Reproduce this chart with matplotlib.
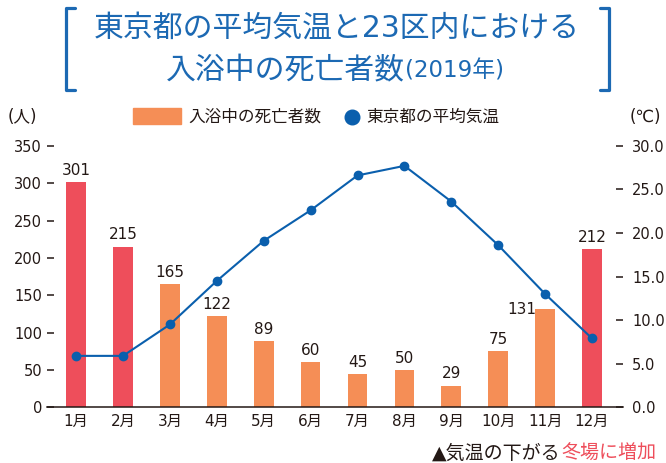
import matplotlib
matplotlib.use('Agg')
import matplotlib.pyplot as plt
from matplotlib.lines import Line2D
from matplotlib.patches import Rectangle

# data
months = ['1月', '2月', '3月', '4月', '5月', '6月', '7月', '8月', '9月', '10月', '11月', '12月']
deaths = [301, 215, 165, 122, 89, 60, 45, 50, 29, 75, 131, 212]
temps = [5.9, 5.9, 9.5, 14.5, 19.1, 22.6, 26.6, 27.7, 23.6, 18.6, 13.0, 7.9]
winter_months = ['1月', '2月', '12月']
left_ticks = [0, 50, 100, 150, 200, 250, 300, 350]
right_ticks = [0, 5, 10, 15, 20, 25, 30]

W, H = 666, 463
RED = '#ee4e5b'
ORANGE = '#f58e56'
BLUE = '#0a5fad'
TITLE_BLUE = '#1c69b3'
DARK = '#231815'

plt.rcParams['font.family'] = ['DejaVu Sans', 'Noto Sans CJK JP']


def fx(x):
    return x / W


def fy(y):
    return 1 - y / H


fig = plt.figure(figsize=(W / 100, H / 100), dpi=100)
ax = fig.add_axes([fx(47), fy(407.3), 576 / W, 261.5 / H])

x = list(range(len(months)))
colors = [RED if m in winter_months else ORANGE for m in months]
ax.bar(x, deaths, width=0.42, color=colors, zorder=2)

for i, v in enumerate(deaths):
    if months[i] == '11月':
        # label sits left of the bar so the line doesn't cross it
        ax.annotate(str(v), (i, v), xytext=(-17, 0), textcoords='offset points',
                    ha='center', va='center', fontsize=11, color=DARK)
    else:
        ax.annotate(str(v), (i, v), xytext=(0, 3), textcoords='offset points',
                    ha='center', va='bottom', fontsize=11, color=DARK)

ax.set_xlim(-0.62, 11.66)
ax.set_ylim(0, 350)
ax.set_xticks(x)
ax.set_xticklabels(months)
ax.set_yticks(left_ticks)
ax.tick_params(axis='x', length=0, pad=4.5, labelsize=11, labelcolor=DARK)
ax.tick_params(axis='y', direction='in', length=4.7, width=1.1, color=DARK,
               pad=3.6, labelsize=10.5, labelcolor=DARK)
for side in ['top', 'left', 'right']:
    ax.spines[side].set_visible(False)
ax.spines['bottom'].set_color(DARK)
ax.spines['bottom'].set_linewidth(1.1)

ax2 = ax.twinx()
ax2.plot(x, temps, color=BLUE, lw=1.5, marker='o', ms=6, zorder=3)
ax2.set_ylim(0, 30)
ax2.set_yticks(right_ticks)
ax2.set_yticklabels([f'{t:.1f}' for t in right_ticks])
ax2.tick_params(axis='y', direction='in', length=4.7, width=1.1, color=DARK,
                pad=6.5, labelsize=10.5, labelcolor=DARK)
for side in ['top', 'left', 'right', 'bottom']:
    ax2.spines[side].set_visible(False)

# title with brackets
fig.text(fx(337), fy(28), '東京都の平均気温と23区内における', ha='center', va='center',
         fontsize=21.5, color=TITLE_BLUE)
fig.text(fx(405), fy(71), '入浴中の死亡者数', ha='right', va='center',
         fontsize=21.5, color=TITLE_BLUE)
fig.text(fx(405), fy(71), '(2019年)', ha='left', va='center',
         fontsize=16.5, color=TITLE_BLUE)
fig.add_artist(Line2D([fx(75), fx(66), fx(66), fx(75)], [fy(8), fy(8), fy(90), fy(90)],
                      transform=fig.transFigure, color=TITLE_BLUE, lw=2.3,
                      solid_joinstyle='round', solid_capstyle='round'))
fig.add_artist(Line2D([fx(600), fx(609), fx(609), fx(600)], [fy(8), fy(8), fy(90), fy(90)],
                      transform=fig.transFigure, color=TITLE_BLUE, lw=2.3,
                      solid_joinstyle='round', solid_capstyle='round'))

# legend and axis units
fig.patches.append(Rectangle((fx(133), fy(124)), 48 / W, 16 / H,
                             transform=fig.transFigure, color=ORANGE))
fig.text(fx(188), fy(117), '入浴中の死亡者数', ha='left', va='center', fontsize=12, color=DARK)
fig.add_artist(Line2D([fx(352)], [fy(117)], marker='o', ms=10.5, color=BLUE,
                      transform=fig.transFigure))
fig.text(fx(366), fy(117), '東京都の平均気温', ha='left', va='center', fontsize=12, color=DARK)
fig.text(fx(8), fy(117), '(人)', ha='left', va='center', fontsize=12, color=DARK)
fig.text(fx(661), fy(117), '(℃)', ha='right', va='center', fontsize=12, color=DARK)

# note at bottom right
fig.text(fx(561), fy(453), '▲気温の下がる', ha='right', va='center', fontsize=13.7, color=DARK)
fig.text(fx(561), fy(453), '冬場に増加', ha='left', va='center', fontsize=13.7, color=RED)

fig.savefig('out.png', dpi=100)
